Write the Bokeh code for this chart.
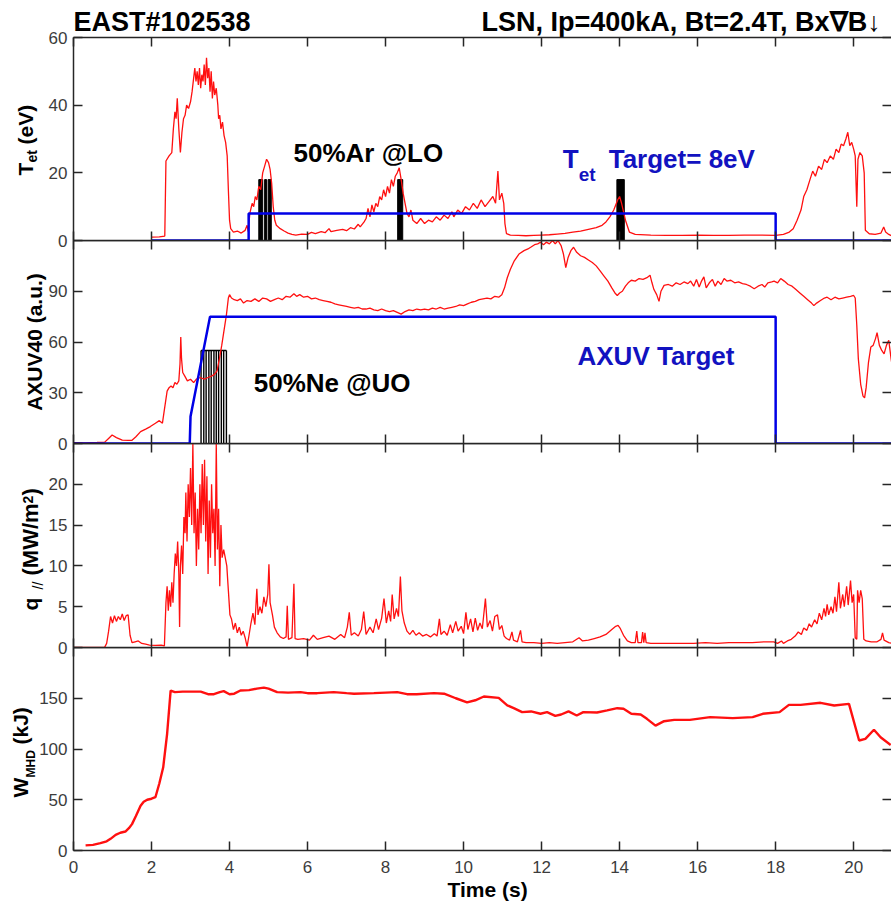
from bokeh.plotting import figure
from bokeh.layouts import column
from bokeh.models import Range1d, FixedTicker, LinearAxis, Label
from bokeh.embed import file_html
from bokeh.resources import INLINE

# ---------------- data ----------------
# Target electron temperature at the outer target, T_et (eV)
tet_t = [2.00, 2.20, 2.34, 2.37, 2.45, 2.52, 2.56, 2.60, 2.63, 2.66, 2.70, 2.74, 2.78, 2.82, 2.86,
         2.90, 2.95, 3.00, 3.04, 3.08, 3.11, 3.14, 3.17, 3.20, 3.23, 3.26, 3.29, 3.32, 3.35, 3.38,
         3.41, 3.44, 3.47, 3.50, 3.53, 3.56, 3.59, 3.62, 3.66, 3.70, 3.72, 3.75, 3.78, 3.82, 3.86,
         3.90, 3.94, 3.97, 4.00, 4.03, 4.10, 4.20, 4.30, 4.40, 4.45, 4.48, 4.52, 4.58, 4.62, 4.66,
         4.70, 4.75, 4.80, 4.85, 4.90, 4.95, 5.00, 5.04, 5.08, 5.12, 5.16, 5.20, 5.30, 5.40, 5.50,
         5.60, 5.70, 5.85, 6.00, 6.10, 6.20, 6.35, 6.45, 6.55, 6.60, 6.75, 6.90, 7.00, 7.10, 7.20,
         7.30, 7.35, 7.45, 7.50, 7.55, 7.60, 7.65, 7.70, 7.75, 7.80, 7.85, 7.90, 7.95, 8.00, 8.05,
         8.10, 8.15, 8.20, 8.25, 8.30, 8.35, 8.40, 8.45, 8.50, 8.55, 8.60, 8.65, 8.70, 8.80, 8.90,
         9.00, 9.10, 9.20, 9.30, 9.40, 9.50, 9.60, 9.70, 9.75, 9.85, 9.95, 10.05, 10.15, 10.25, 10.35,
         10.45, 10.55, 10.65, 10.75, 10.82, 10.88, 10.92, 10.98, 11.03, 11.06, 11.10, 11.20, 11.40,
         11.60, 11.80, 12.00, 12.20, 12.40, 12.60, 12.80, 13.00, 13.20, 13.40, 13.55, 13.65, 13.75,
         13.85, 13.95, 14.00, 14.05, 14.15, 14.25, 14.40, 14.80, 15.20, 15.60, 16.00, 16.40, 16.80,
         17.20, 17.60, 18.00, 18.20, 18.35, 18.45, 18.55, 18.65, 18.72, 18.80, 18.88, 18.95, 19.02,
         19.10, 19.18, 19.25, 19.32, 19.40, 19.48, 19.55, 19.62, 19.68, 19.74, 19.80, 19.85, 19.90,
         19.95, 20.00, 20.04, 20.08, 20.11, 20.16, 20.22, 20.27, 20.30, 20.40, 20.55, 20.70, 20.77,
         20.82, 20.90, 21.00]
tet_v = [1.0, 1.1, 1.3, 23.5, 25, 26, 33, 38, 36, 42, 33, 26, 32, 36, 37,
         40, 39, 41, 44, 48, 51, 47, 50, 46, 51, 45, 49, 47, 52, 46,
         54, 48, 51, 44, 50, 42, 47, 43, 45, 40, 36, 37, 33, 35, 31,
         29, 25, 15, 6, 3.5, 2.5, 2.8, 2.2, 3.0, 4.5, 2.6, 8, 11, 10, 13,
         12, 16, 15, 20, 22, 24, 23, 21, 17, 10, 6, 4.5, 3.5, 2.8, 2.2,
         1.8, 1.6, 1.9, 1.8, 2.4, 2.0, 2.6, 2.3, 3.5, 2.6, 3.0, 3.3, 2.9, 3.8, 3.4,
         4.8, 4.0, 5.5, 6.5, 9.5, 7, 10.5, 8.5, 11, 10, 13, 12, 15, 13, 16,
         14, 18, 16, 19, 20, 21.5, 18, 14, 11, 8, 7, 9, 6, 5, 6.5,
         5, 6, 5.5, 7, 6, 7.5, 6.5, 8.5, 7, 9, 8, 10, 9, 11, 9.5,
         12, 10, 11.5, 13, 11, 20.5, 12, 14, 11, 5, 2.0, 1.6, 1.5,
         1.4, 1.5, 1.6, 1.7, 1.9, 2.1, 2.5, 2.8, 3.3, 3.8, 4.5, 5.5, 7,
         9, 12, 13, 11, 6, 2.5, 1.8, 1.6, 1.5, 1.5, 1.6, 1.5, 1.5,
         1.6, 1.6, 1.5, 1.8, 2.5, 3.5, 6, 9, 13, 15, 18, 20.5, 19,
         22, 21, 24, 23, 25, 24, 27, 26, 28.5, 28, 30, 32, 28,
         29, 27, 25, 10, 24, 26, 25, 20, 3, 2.0, 1.8, 2.2, 4,
         2.5, 1.8, 1.2]

# Feedback request for T_et (eV)
tet_target_t = [2.0, 4.49, 4.49, 18.0, 18.0, 21.0]
tet_target_v = [0, 0, 8, 8, 0, 0]

# Ar puffs at the lower outer divertor: valve open / close times (s), amplitude
ar_on = [4.75, 4.90, 4.99, 8.31, 13.93]
ar_off = [4.85, 4.95, 5.07, 8.44, 14.12]
ar_level = 18

# AXUV channel 40 (a.u.)
axuv_t = [0.00, 0.30, 0.60, 0.80, 0.90, 0.99, 1.10, 1.25, 1.40, 1.50, 1.60, 1.72, 1.85, 1.97, 2.10,
          2.20, 2.28, 2.33, 2.40, 2.45, 2.50, 2.55, 2.60, 2.65, 2.70, 2.73, 2.75, 2.77, 2.80, 2.85,
          2.92, 3.00, 3.08, 3.15, 3.25, 3.35, 3.45, 3.55, 3.62, 3.68, 3.74, 3.80, 3.86, 3.92, 3.97,
          4.00, 4.05, 4.12, 4.20, 4.28, 4.36, 4.45, 4.55, 4.65, 4.75, 4.85, 4.95, 5.05, 5.15, 5.25,
          5.35, 5.45, 5.55, 5.65, 5.72, 5.80, 5.90, 6.00, 6.10, 6.20, 6.30, 6.40, 6.50, 6.60, 6.70,
          6.80, 6.90, 7.00, 7.10, 7.20, 7.30, 7.40, 7.50, 7.60, 7.70, 7.80, 7.90, 8.00, 8.10, 8.20,
          8.30, 8.40, 8.50, 8.60, 8.70, 8.80, 8.90, 9.00, 9.10, 9.20, 9.30, 9.40, 9.50, 9.60, 9.70,
          9.80, 9.90, 10.00, 10.10, 10.20, 10.30, 10.40, 10.50, 10.60, 10.70, 10.80, 10.90, 10.98,
          11.05, 11.12, 11.20, 11.30, 11.42, 11.55, 11.65, 11.72, 11.82, 11.90, 11.97, 12.05, 12.12,
          12.20, 12.28, 12.35, 12.42, 12.50, 12.56, 12.62, 12.68, 12.75, 12.82, 12.90, 13.00, 13.10,
          13.20, 13.30, 13.40, 13.50, 13.60, 13.70, 13.80, 13.88, 13.94, 14.00, 14.07, 14.15, 14.22,
          14.30, 14.40, 14.50, 14.60, 14.70, 14.78, 14.83, 14.88, 14.95, 15.01, 15.06, 15.14, 15.25,
          15.35, 15.45, 15.55, 15.65, 15.75, 15.82, 15.90, 15.97, 16.04, 16.10, 16.16, 16.22, 16.30,
          16.38, 16.45, 16.52, 16.60, 16.68, 16.75, 16.85, 16.95, 17.05, 17.15, 17.25, 17.35, 17.45,
          17.55, 17.65, 17.72, 17.80, 17.90, 17.96, 18.05, 18.13, 18.22, 18.32, 18.42, 18.52, 18.62,
          18.72, 18.82, 18.92, 18.98, 19.05, 19.15, 19.25, 19.32, 19.42, 19.52, 19.62, 19.72, 19.82,
          19.92, 20.00, 20.04, 20.08, 20.12, 20.18, 20.24, 20.28, 20.32, 20.38, 20.44, 20.50, 20.56,
          20.60, 20.66, 20.72, 20.78, 20.84, 20.90, 20.96, 21.00]
axuv_v = [0.5, 0.4, 0.6, 0.8, 3, 5, 3.5, 2, 1.8, 1.9, 4, 7, 8.5, 10, 12,
          13.5, 12, 20, 31, 33, 34, 33, 36, 35, 37, 47, 63, 50, 42, 40,
          37, 38, 36, 38, 39, 38, 39, 40, 41, 43, 50, 58, 67, 76, 86,
          88, 86, 85, 84.5, 85.5, 83, 84.5, 84, 85.5, 84, 86, 85.5, 84, 85, 86,
          85, 87, 86.5, 88.5, 87, 88, 86.5, 87, 85.5, 86, 85, 84.5, 84, 83.5, 82.5,
          82, 81.5, 81, 80.5, 80, 80.5, 79.5, 79.5, 80, 79, 78.5, 79.5, 78.5, 78, 78.5,
          77.5, 76.5, 78, 79, 78.5, 79.5, 79, 79.5, 79, 80, 79.5, 80.5, 79.5, 80, 80.5,
          81, 82, 81.5, 82.5, 83.5, 84, 85, 85.5, 86, 85.5, 87, 86.5, 88,
          92, 98, 103, 108, 112, 114, 115, 116, 117.5, 118, 119, 117.5, 119,
          118, 120, 118, 120, 117, 112, 104, 110, 114, 116, 113, 111, 110,
          108.5, 107, 105, 102, 99, 96, 92, 89, 87.5, 89, 90, 93, 95,
          96.5, 96, 97.5, 97, 98, 99.5, 95, 91, 88, 84, 90, 93.5, 94,
          93, 95, 94, 95.5, 94.5, 96, 93, 97, 92.5, 96, 98.5, 92, 95,
          97, 93, 96, 94, 97.5, 96, 96.5, 95, 95.5, 94.5, 94, 93, 91.5,
          93, 94, 92.5, 95, 95.5, 96, 95, 97.5, 96, 94, 93, 91, 89,
          87, 85, 83, 81.5, 83, 84.5, 86, 86.5, 85, 86.5, 85.5, 86, 86.5,
          87, 87.5, 86, 70, 50, 35, 28, 27, 33, 48, 57, 58, 62,
          65.5, 58, 55, 53, 58, 61, 50, 44]

# Feedback request for the AXUV signal (a.u.)
axuv_target_t = [0.0, 2.98, 3.0, 3.5, 18.0, 18.0, 21.0]
axuv_target_v = [0, 0, 16, 75, 75, 0, 0]

# Ne puffs at the upper outer divertor: valve edge times (s), amplitude
ne_edges = [3.27, 3.34, 3.40, 3.47, 3.53, 3.60, 3.66, 3.72, 3.79, 3.85, 3.92]
ne_level = 55

# Parallel heat flux q_// (MW/m^2)
q_t = [0.00, 0.80, 0.85, 0.90, 0.95, 1.00, 1.05, 1.10, 1.15, 1.20, 1.25, 1.30, 1.35, 1.40, 1.45,
       1.50, 1.58, 1.66, 1.75, 1.85, 1.95, 2.10, 2.25, 2.33, 2.37, 2.40, 2.43, 2.46, 2.49, 2.52,
       2.55, 2.58, 2.61, 2.64, 2.67, 2.70, 2.72, 2.74, 2.77, 2.80, 2.83, 2.86, 2.88, 2.91, 2.94,
       2.97, 3.00, 3.03, 3.06, 3.09, 3.12, 3.15, 3.18, 3.21, 3.24, 3.27, 3.30, 3.33, 3.36, 3.39,
       3.42, 3.45, 3.48, 3.51, 3.54, 3.57, 3.60, 3.63, 3.66, 3.69, 3.72, 3.75, 3.78, 3.81, 3.85,
       3.89, 3.93, 3.97, 4.01, 4.05, 4.10, 4.15, 4.20, 4.25, 4.30, 4.35, 4.40, 4.45, 4.50, 4.55,
       4.60, 4.65, 4.70, 4.73, 4.78, 4.83, 4.88, 4.93, 4.98, 5.01, 5.04, 5.10, 5.15, 5.22, 5.30,
       5.38, 5.45, 5.48, 5.51, 5.60, 5.65, 5.68, 5.75, 5.90, 6.05, 6.15, 6.25, 6.40, 6.55, 6.70,
       6.85, 6.95, 7.02, 7.07, 7.12, 7.20, 7.30, 7.38, 7.44, 7.50, 7.60, 7.68, 7.76, 7.82, 7.90,
       7.96, 8.02, 8.08, 8.13, 8.17, 8.22, 8.28, 8.33, 8.38, 8.42, 8.48, 8.55, 8.62, 8.70, 8.78,
       8.86, 8.95, 9.05, 9.15, 9.25, 9.32, 9.38, 9.42, 9.50, 9.58, 9.66, 9.72, 9.80, 9.86, 9.94,
       10.00, 10.06, 10.11, 10.18, 10.24, 10.30, 10.36, 10.42, 10.48, 10.56, 10.61, 10.68, 10.74,
       10.80, 10.87, 10.92, 10.98, 11.04, 11.10, 11.18, 11.24, 11.28, 11.38, 11.46, 11.50, 11.60,
       11.80, 12.00, 12.20, 12.40, 12.60, 12.80, 12.96, 13.05, 13.20, 13.35, 13.50, 13.65, 13.80,
       13.90, 13.96, 14.02, 14.10, 14.20, 14.30, 14.40, 14.44, 14.47, 14.56, 14.59, 14.62, 14.65,
       14.68, 14.80, 15.00, 15.30, 15.60, 15.90, 16.20, 16.50, 16.80, 17.10, 17.40, 17.70, 17.95,
       18.05, 18.15, 18.20, 18.30, 18.40, 18.50, 18.58, 18.66, 18.72, 18.80, 18.86, 18.92, 19.00,
       19.06, 19.12, 19.18, 19.24, 19.28, 19.32, 19.36, 19.42, 19.47, 19.52, 19.56, 19.62, 19.66,
       19.72, 19.76, 19.82, 19.86, 19.92, 19.96, 20.00, 20.04, 20.08, 20.10, 20.14, 20.18, 20.22,
       20.26, 20.32, 20.45, 20.60, 20.70, 20.74, 20.78, 20.90, 21.00]
q_v = [0, 0.05, 0.5, 2, 3.8, 3.0, 3.9, 3.2, 3.8, 3.4, 4.1, 3.3, 3.9, 4.0, 1.5,
       0.6, 0.7, 0.8, 0.5, 0.4, 0.3, 0.25, 0.3, 0.2, 5.5, 7.5, 4.5, 7, 5, 8,
       5.5, 9, 11.5, 10, 13, 9, 2.5, 10, 12.5, 9, 16, 14, 19, 13, 20,
       16, 22, 15, 25, 14, 19, 10, 17, 12, 20, 14, 22.5, 15, 23, 13,
       21, 9, 18, 11, 20, 14, 17, 10, 25, 12, 17, 7.5, 15, 11, 12,
       11, 10, 7, 4, 3.5, 2.2, 3, 1.8, 2.5, 1.5, 2, 1.2, 0.1, 1.5, 3,
       4.2, 2.8, 7.2, 4, 5, 4.2, 6.2, 5, 6.5, 10.2, 5.5, 4, 2.5, 1.8, 1.3,
       1.1, 1.3, 5.1, 1.0, 1.2, 7.8, 1.1, 1.0, 1.1, 0.9, 1.5, 1.0, 1.2, 1.4, 1.0,
       1.6, 1.2, 2.5, 4.3, 1.5, 1.8, 1.4, 2.2, 4.4, 1.6, 2.5, 1.8, 3.5, 2.2, 3.6,
       6.0, 3.0, 4.5, 3.2, 6.5, 3.5, 4.8, 3.8, 8.7, 4.5, 3, 2, 1.6, 2.1, 1.5,
       1.8, 1.4, 1.6, 1.3, 1.7, 1.4, 3.5, 1.6, 2.0, 1.5, 2.8, 1.8, 3.2, 2.0, 2.6,
       1.7, 4.3, 2.2, 3.5, 1.9, 3.6, 2.1, 3.0, 2.3, 6.0, 2.5, 3.3, 2.0,
       3.8, 4.0, 2.2, 2.7, 1.4, 1.1, 0.9, 1.9, 0.9, 0.7, 2.1, 0.7, 0.6,
       0.6, 0.5, 0.6, 0.5, 0.6, 0.7, 1.2, 0.8, 0.9, 1.1, 1.3, 1.6, 2.2,
       2.6, 2.7, 2.3, 1.5, 0.8, 0.6, 0.6, 2.0, 0.6, 0.6, 1.9, 0.6, 1.8,
       0.6, 0.5, 0.5, 0.5, 0.5, 0.5, 0.6, 0.5, 0.6, 0.6, 0.6, 0.7, 0.7,
       0.5, 0.8, 0.5, 0.8, 1.0, 1.4, 1.9, 1.6, 2.4, 2.1, 2.9, 2.5, 3.4,
       2.9, 4.2, 3.4, 4.8, 3.8, 5.3, 4.0, 5.0, 4.2, 6.2, 4.4, 8.0, 4.8,
       6.5, 5.0, 7.5, 5.2, 8.2, 5.5, 6.5, 1.2, 1.0, 7.0, 5.5, 7.0, 6.0,
       1.0, 0.8, 0.7, 0.7, 1.0, 1.8, 0.9, 0.6, 0.5]

# Plasma stored energy W_MHD (kJ)
w_t = [0.31, 0.50, 0.69, 0.85, 0.95, 1.08, 1.20, 1.33, 1.42, 1.50, 1.60, 1.72, 1.80, 1.89, 2.00,
       2.10, 2.20, 2.30, 2.40, 2.49, 2.60, 2.80, 3.00, 3.26, 3.45, 3.60, 3.75, 3.85, 4.00, 4.12,
       4.28, 4.50, 4.70, 4.88, 5.00, 5.22, 5.50, 5.82, 6.00, 6.25, 6.67, 7.00, 7.19, 7.70, 8.00,
       8.30, 8.55, 8.80, 9.24, 9.50, 9.80, 10.09, 10.30, 10.52, 10.90, 11.12, 11.30, 11.50, 11.73,
       11.97, 12.14, 12.35, 12.50, 12.69, 12.90, 13.07, 13.42, 13.68, 13.94, 14.10, 14.30, 14.54,
       14.70, 14.92, 15.14, 15.40, 15.80, 16.32, 16.90, 17.41, 17.67, 18.10, 18.34, 18.64, 19.15,
       19.50, 19.88, 20.14, 20.30, 20.52, 20.69, 20.95]
w_v = [5, 5.5, 7.2, 9, 11.5, 15.4, 17.5, 18.7, 22, 26, 34, 44, 48, 50, 51,
       52.5, 66, 82, 115, 157.6, 156, 156.5, 156.5, 156.5, 154, 154, 156, 157, 154, 154.5,
       157.6, 158, 159.5, 160.5, 159.5, 156, 155.5, 156, 155, 155, 156, 155, 154.5, 155, 155.5,
       156, 154, 154, 155, 154.5, 150, 146, 148, 151.7, 150.4, 143, 140, 136.3, 137,
       134.7, 136.3, 132.7, 134, 137, 133, 136.3, 136, 138, 140.2, 139.6, 134.7, 134,
       129.7, 123, 127.4, 128.7, 128.7, 131.4, 130.4, 131.4, 134.7, 136.3, 143.5, 143.5, 145.5,
       142.9, 144.5, 108.4, 110, 119, 111.6, 104]

x_ticks = [0, 2, 4, 6, 8, 10, 12, 14, 16, 18, 20]

# ---------------- style ----------------
FONT = "Liberation Sans"
RED = "#ff1010"
BLUE = "#0000e6"
TEXT_BLUE = "#1212c0"
AXIS = "#262626"
TICK_TEXT = "#3c3c3c"
PAGE_W, PAGE_H = 891, 903
X_END = 20.97
OVERLAP = 12  # room below each frame for its "0" tick label
UP = 1.5707963267948966


def style_axis(ax, ticks, labelled, line=True):
    ax.axis_line_color = AXIS if line else None
    ax.axis_line_width = 1.5
    if labelled:
        ax.ticker = FixedTicker(ticks=ticks)
        ax.major_tick_in = 9
        ax.major_tick_out = 0
        ax.major_tick_line_color = AXIS
        ax.major_tick_line_width = 1.5
        ax.minor_tick_line_color = None
        ax.major_label_text_font = FONT
        ax.major_label_text_font_size = "17px"
        ax.major_label_text_color = TICK_TEXT
        ax.major_label_standoff = 6
    else:
        # ticks only: carried by the minor ticks so that no labels are produced
        ax.ticker = FixedTicker(ticks=[], minor_ticks=ticks)
        ax.major_tick_line_color = None
        ax.minor_tick_in = 9
        ax.minor_tick_out = 0
        ax.minor_tick_line_color = AXIS
        ax.minor_tick_line_width = 1.5
        ax.major_label_standoff = 0


def panel(frame_h, ymax, yticks, top=0, bottom=OVERLAP, xlabels=False, shift=-OVERLAP):
    p = figure(width=PAGE_W, height=frame_h + top + bottom,
               x_range=Range1d(0, X_END), y_range=Range1d(0, ymax),
               output_backend="svg", toolbar_location=None,
               x_axis_location=None, y_axis_location=None,
               min_border_left=73, min_border_right=0,
               min_border_top=top, min_border_bottom=bottom,
               background_fill_color=None, border_fill_color=None,
               outline_line_color=None)
    p.grid.visible = False
    for side, ticks, lab, line in (("left", yticks, True, True),
                                   ("right", yticks, False, False),
                                   ("above", x_ticks, False, True),
                                   ("below", x_ticks, xlabels, True)):
        ax = LinearAxis()
        style_axis(ax, ticks, lab, line)
        if side == "below" and xlabels:
            ax.major_label_standoff = 10
        p.add_layout(ax, side)
    p.margin = (shift, 0, 0, 0)
    return p


def label(p, x, y, text, size, color="black", align="left", angle=0.0, bold=True):
    p.add_layout(Label(x=x, y=y, text=text, text_font=FONT, text_font_size=f"{size}px",
                       text_font_style="bold" if bold else "normal", text_color=color,
                       text_align=align, text_baseline="middle", angle=angle))


# ---------------- page layer: titles and axis captions ----------------
# A transparent full-page canvas (x to the right, y upwards, in pixels) that
# carries the texts sitting outside the four plot frames.
page = figure(width=PAGE_W, height=PAGE_H, x_range=Range1d(0, PAGE_W), y_range=Range1d(0, PAGE_H),
              output_backend="svg", toolbar_location=None,
              x_axis_location=None, y_axis_location=None,
              min_border=0, background_fill_color=None, border_fill_color=None,
              outline_line_color=None, frame_align=False)
page.grid.visible = False

label(page, 73, 881.5, "EAST#102538", 27)
label(page, 481, 881.5, "LSN, Ip=400kA, Bt=2.4T, Bx\u2207B\u2193", 27)

# T_et (eV)
label(page, 25.4, 728, "T", 21, angle=UP)
label(page, 31, 741, "et", 14, angle=UP)
label(page, 25.4, 759, "(eV)", 21, angle=UP)
# AXUV40 (a.u.)
label(page, 34.4, 561.5, "AXUV40 (a.u.)", 21, align="center", angle=UP)
# q_// (MW/m^2)
label(page, 30.4, 293, "q", 21, angle=UP)
label(page, 37, 314, "//", 14, angle=UP, bold=False)
label(page, 30.1, 328, "(MW/m", 22, angle=UP)
label(page, 27, 400, "2", 14, angle=UP)
label(page, 30.1, 408, ")", 22, angle=UP)
# W_MHD (kJ)
label(page, 20.4, 106, "W", 21, angle=UP)
label(page, 30.7, 126, "MHD", 12, angle=UP)
label(page, 20.4, 159, "(kJ)", 21, angle=UP)
# x caption
label(page, 447, 13.6, "Time (s)", 21)

# ---------------- panel 1: T_et ----------------
p1 = panel(203, 60, [0, 20, 40, 60], top=37, shift=-PAGE_H)
p1.quad(left=ar_on, right=ar_off, bottom=0, top=ar_level, fill_color="black",
        line_color="black", line_width=1)
p1.line(tet_t, tet_v, line_color=RED, line_width=1.3)
p1.line(tet_target_t, tet_target_v, line_color=BLUE, line_width=2.5)
label(p1, 5.64, 26.0, "50%Ar @LO", 26)
label(p1, 12.54, 24.2, "T", 26, color=TEXT_BLUE)
label(p1, 12.95, 19.5, "et", 19, color=TEXT_BLUE)
label(p1, 13.72, 24.2, "Target= 8eV", 26, color=TEXT_BLUE)

# ---------------- panel 2: AXUV40 ----------------
p2 = panel(203, 120, [0, 30, 60, 90])
p2.segment(x0=ne_edges, y0=0, x1=ne_edges, y1=ne_level, line_color="black", line_width=1.4)
p2.segment(x0=ne_edges[0], y0=ne_level, x1=ne_edges[-1], y1=ne_level, line_color="black",
           line_width=1.4)
p2.line(axuv_t, axuv_v, line_color=RED, line_width=1.3)
p2.line(axuv_target_t, axuv_target_v, line_color=BLUE, line_width=2.5)
label(p2, 4.62, 35.5, "50%Ne @UO", 26)
label(p2, 12.92, 52.0, "AXUV Target", 26, color=TEXT_BLUE)

# ---------------- panel 3: q_// ----------------
p3 = panel(204, 25, [0, 5, 10, 15, 20])
p3.line(q_t, q_v, line_color=RED, line_width=1.3)

# ---------------- panel 4: W_MHD ----------------
p4 = panel(203, 200, [0, 50, 100, 150], bottom=53, xlabels=True)
p4.line(w_t, w_v, line_color=RED, line_width=2.4)

layout = column(page, p1, p2, p3, p4, spacing=0)

open("out.html", "w").write(file_html(layout, INLINE))
